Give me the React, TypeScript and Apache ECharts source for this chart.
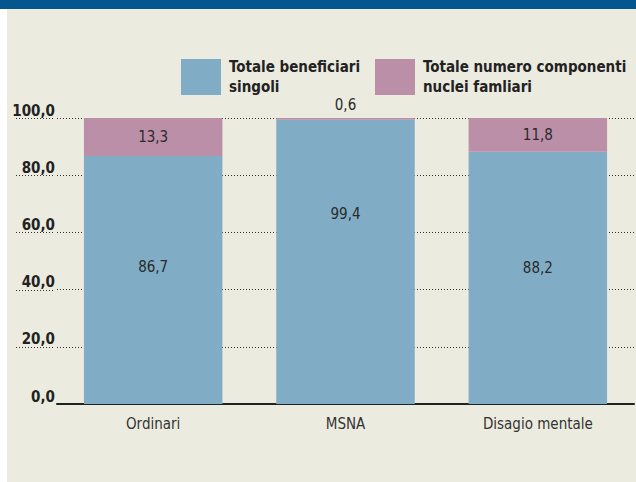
import React, { useEffect, useRef } from "react";
import * as echarts from "echarts";

const categories = ["Ordinari", "MSNA", "Disagio mentale"];
const singoli = [86.7, 99.4, 88.2];
const nuclei = [13.3, 0.6, 11.8];
const seriesNames = ["Totale beneficiari singoli", "Totale numero componenti nuclei famliari"];
const legendLabels = ["Totale beneficiari\nsingoli", "Totale numero componenti\nnuclei famliari"];
const yTicks = [0, 20, 40, 60, 80, 100];

const FONT = "'Liberation Sans Narrow', 'DejaVu Sans Condensed', 'Roboto', sans-serif";
const fmt = (v: number) => v.toFixed(1).replace(".", ",");

export default function App() {
  const ref = useRef<HTMLDivElement>(null);
  useEffect(() => {
    if (!ref.current) return;
    const chart = echarts.init(ref.current, null, { renderer: "svg" });
    const blueOffsets = [[0, -13], [0, -48], [0, -10]];
    chart.setOption({
      animation: false,
      backgroundColor: "transparent",
      textStyle: { fontFamily: FONT },
      legend: [0, 1].map((i) => ({
        data: [seriesNames[i]],
        left: i === 0 ? 181 : 375,
        top: 57,
        padding: 0,
        itemWidth: 40,
        itemHeight: 36,
        icon: "rect",
        formatter: () => legendLabels[i],
        textStyle: {
          fontFamily: FONT,
          fontWeight: "bold",
          fontSize: 15,
          lineHeight: 20,
          color: "#222",
          padding: [0, 0, 0, 3],
        },
      })),
      grid: { left: 57, right: 2, top: 118, bottom: 78, containLabel: false },
      xAxis: {
        type: "category",
        data: categories,
        axisTick: { show: false },
        axisLine: { lineStyle: { color: "#222", width: 2 } },
        axisLabel: { fontFamily: FONT, fontSize: 15, color: "#333", margin: 12 },
      },
      yAxis: {
        type: "value",
        min: 0,
        max: 100,
        interval: 20,
        axisLine: { show: false },
        axisTick: { show: false },
        axisLabel: {
          formatter: (v: number) => fmt(v),
          fontFamily: FONT,
          fontWeight: "bold",
          fontSize: 15,
          color: "#222",
          margin: 2,
          verticalAlign: "bottom",
        },
        splitLine: { lineStyle: { color: "#333", width: 1, type: [1, 2] } },
      },
      series: [
        {
          name: seriesNames[0],
          type: "bar",
          stack: "tot",
          barWidth: "72%",
          itemStyle: { color: "#80ADC5" },
          data: singoli.map((v, i) => ({
            value: v,
            label: { offset: blueOffsets[i] },
          })),
          label: {
            show: true,
            position: "inside",
            formatter: (p: any) => fmt(p.value),
            fontFamily: FONT,
            fontSize: 15,
            color: "#2a2a2a",
          },
        },
        {
          name: seriesNames[1],
          type: "bar",
          stack: "tot",
          barWidth: "72%",
          itemStyle: { color: "#BB8FA7" },
          data: nuclei.map((v) => ({
            value: v,
            label: v < 3 ? { position: "top", distance: 6 } : {},
          })),
          label: {
            show: true,
            position: "inside",
            formatter: (p: any) => fmt(p.value),
            fontFamily: FONT,
            fontSize: 15,
            color: "#2a2a2a",
          },
        },
      ],
    });
    const lines = yTicks
      .filter((v) => v > 0)
      .map((v) => {
        const y = Math.round(chart.convertToPixel({ yAxisIndex: 0 }, v) as number) + 0.5;
        return {
          type: "line",
          shape: { x1: 16, y1: y, x2: 55, y2: y },
          style: { stroke: "#333", lineWidth: 1, lineDash: [1, 2] },
        };
      });
    chart.setOption({ graphic: lines });
    return () => chart.dispose();
  }, []);
  return (
    <div style={{ position: "absolute", left: 0, top: 0, width: 636, height: 482, background: "#fff" }}>
      <div style={{ position: "absolute", left: 7, top: 9, width: 629, height: 473, background: "#ECEBE0" }} />
      <div style={{ position: "absolute", left: 0, top: 0, width: 636, height: 9, background: "#05568F" }} />
      <div ref={ref} style={{ position: "absolute", left: 0, top: 0, width: 636, height: 482 }} />
    </div>
  );
}
